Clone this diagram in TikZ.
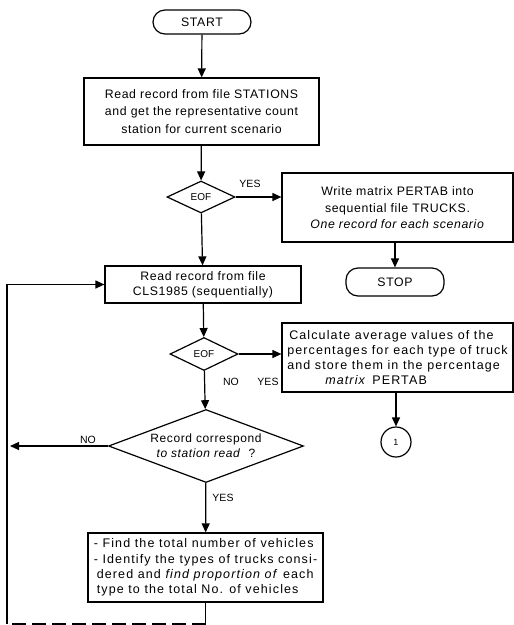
\documentclass[tikz,border=0pt]{standalone}
\usepackage{fontspec}
\setmainfont{Liberation Sans}
\usetikzlibrary{arrows.meta,shapes.geometric}
\begin{document}
\begin{tikzpicture}[x=1pt,y=-1pt,
  line width=1.2pt,
  >={Triangle[length=9pt,width=8pt]},
  txt/.style={font=\fontsize{12.3}{17.5}\selectfont\addfontfeature{LetterSpace=5}},
  widetxt/.style={font=\fontsize{12.5}{15.3}\selectfont\addfontfeature{LetterSpace=9}},
  procbox/.style={draw,rectangle,inner sep=0pt,align=center,txt},
  termbox/.style={draw,rectangle,rounded corners=12pt,inner sep=0pt,txt},
  decbox/.style={draw,diamond,inner sep=0pt,align=center,txt},
  lbl/.style={inner sep=0pt,font=\fontsize{10.5}{12}\selectfont},
  conncirc/.style={draw,circle,inner sep=0pt,minimum size=30pt,font=\fontsize{9}{10}\selectfont},
]
\useasboundingbox (0,0) rectangle (514,625);

% terminals
\node[termbox,minimum width=98pt,minimum height=24pt] (start) at (202,22) {START};
\node[termbox,minimum width=98pt,minimum height=28pt] (stop) at (395,282) {STOP};

% process boxes
\node[procbox,minimum width=235pt,minimum height=67pt] (stations) at (201.5,111.5)
  {Read record from file STATIONS\\and get the representative count\\station for current scenario};
\node[procbox,minimum width=231pt,minimum height=69pt] (write) at (397.5,207.5)
  {Write matrix PERTAB into\\sequential file TRUCKS.\\[-2pt]\textit{One record for each scenario}};
\node[procbox,minimum width=196pt,minimum height=37pt,font=\fontsize{12.3}{15}\selectfont\addfontfeature{LetterSpace=5}] (cls) at (203,284.5)
  {Read record from file\\CLS1985 (sequentially)};
\node[procbox,align=left,minimum width=231pt,minimum height=69pt,widetxt] (avg) at (397.5,357.5)
  {\hspace*{2pt}Calculate average values of the\\percentages for each type of truck\\and store them in the percentage\\\hspace*{38pt}\textit{matrix}\hspace{6pt}PERTAB};
\node[procbox,align=left,minimum width=235pt,minimum height=69pt,widetxt] (total) at (205.5,567.5)
  {- Find the total number of vehicles\\- Identify the types of trucks consi-\\\hspace*{3pt}dered and \textit{find proportion of} each\\\hspace*{3pt}type to the total No. of vehicles};

% decisions
\node[decbox,shape aspect=2,minimum width=68pt,minimum height=32pt,font=\fontsize{10}{12}\selectfont] (eofa) at (201,197) {EOF};
\node[decbox,shape aspect=2,minimum width=68pt,minimum height=33pt,font=\fontsize{10}{12}\selectfont] (eofb) at (204,354) {EOF};
\node[decbox,shape aspect=2.67,minimum width=195pt,minimum height=73pt,font=\fontsize{12}{15}\selectfont\addfontfeature{LetterSpace=5}] (match) at (206,446)
  {Record correspond\\\textit{to station read}\hspace{8pt}?};

% connector
\node[conncirc] (one) at (396,442) {1};

% loop-back path points
\coordinate (loopbot) at (7,624);
\coordinate (looptop) at (7,284.5);
\coordinate (loopin) at (7,446);

% flow lines
\draw[->] (start) -- (stations);
\draw[->] (stations) -- (eofa);
\draw[->] (eofa.east) -- (eofa.east -| write.west);
\draw[->] (stop.north |- write.south) -- (stop.north);
\draw[->] (eofa) -- (cls);
\draw[->] (cls) -- (eofb);
\draw[->] (eofb.east) -- (eofb.east -| avg.west);
\draw[->] (one.north |- avg.south) -- (one.north);
\draw[->] (eofb) -- (match);
\draw[->] (match.west) -- ([xshift=3pt]loopin);
\draw[->] (match) -- (total);
\draw (total.south) -- (total.south |- loopbot);
\draw[dashed,dash pattern=on 14pt off 6pt] (total.south |- loopbot) -- (loopbot);
\draw[->] (loopbot) -- (looptop) -- (cls.west);

% branch labels
\node[lbl] (yesa) at (250,184) {YES};
\node[lbl] (nob) at (231,382) {NO};
\node[lbl] (yesb) at (268,382) {YES};
\node[lbl] (noc) at (88,440) {NO};
\node[lbl] (yesc) at (223,498) {YES};
\end{tikzpicture}
\end{document}
